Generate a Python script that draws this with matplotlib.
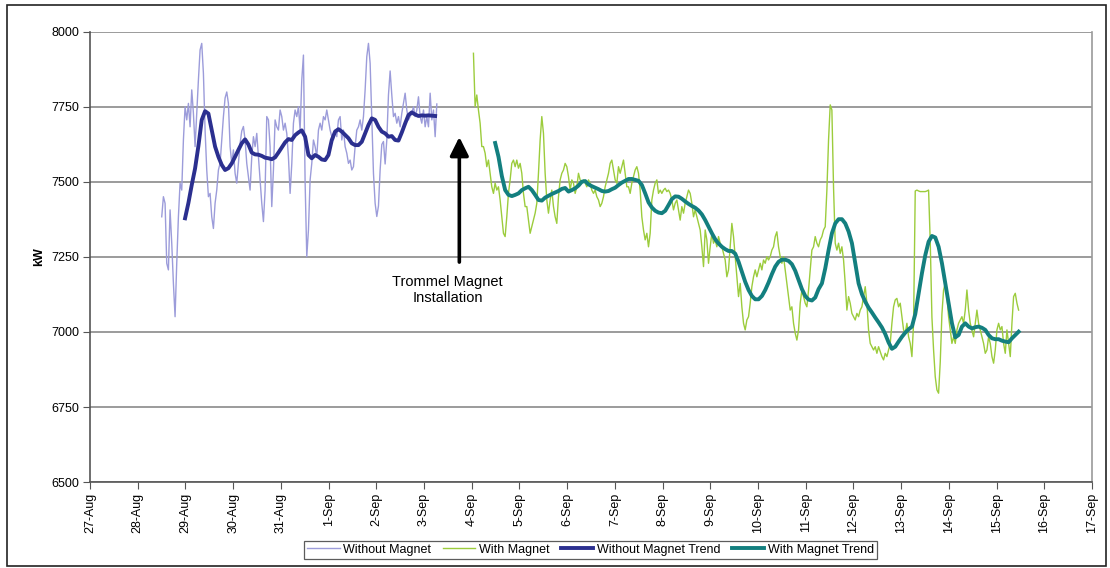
import numpy as np
import matplotlib
matplotlib.use("Agg")
import matplotlib.pyplot as plt
from matplotlib.patches import Rectangle

plt.rcParams["font.family"] = ["Liberation Sans", "DejaVu Sans"]

# Time axis: days counted from 27-Aug 00:00
day_labels = ["27-Aug", "28-Aug", "29-Aug", "30-Aug", "31-Aug", "1-Sep", "2-Sep",
              "3-Sep", "4-Sep", "5-Sep", "6-Sep", "7-Sep", "8-Sep", "9-Sep",
              "10-Sep", "11-Sep", "12-Sep", "13-Sep", "14-Sep", "15-Sep",
              "16-Sep", "17-Sep"]

# Logged power, sampled every ~50 minutes
sample_step_days = 0.03494

without_start_day = 1.503
without_magnet_kw = [
    7384, 7451, 7429, 7229, 7207, 7407, 7296, 7162, 7051, 7229, 7384, 7496, 7473,
    7640, 7751, 7707, 7762, 7684, 7807, 7729, 7618, 7729, 7840, 7940, 7962, 7862,
    7673, 7540, 7451, 7462, 7384, 7345, 7429, 7473, 7540, 7562, 7640, 7718, 7780,
    7800, 7762, 7618, 7562, 7607, 7529, 7496, 7562, 7629, 7670, 7685, 7640, 7562,
    7518, 7473, 7584, 7651, 7618, 7662, 7584, 7507, 7429, 7368, 7473, 7718, 7707,
    7618, 7418, 7540, 7707, 7684, 7673, 7740, 7718, 7673, 7696, 7662, 7584,
    7462, 7560, 7696, 7740, 7718, 7751, 7673, 7840, 7923, 7500, 7251, 7340, 7507,
    7562, 7640, 7618, 7584, 7673, 7696, 7673, 7718, 7707, 7740, 7707, 7673, 7651,
    7640, 7673, 7651, 7707, 7718, 7640, 7673, 7618, 7596, 7562, 7573, 7540, 7551,
    7618, 7673, 7684, 7707, 7673, 7718, 7807, 7918, 7962, 7896, 7718, 7529, 7429,
    7385, 7420, 7540, 7625, 7635, 7560, 7640, 7790, 7870, 7790, 7718, 7729, 7696,
    7718, 7684, 7729, 7762, 7796, 7740, 7707, 7718, 7729, 7751, 7718, 7740, 7784,
    7718, 7696, 7740, 7684, 7718, 7684, 7796, 7707, 7740, 7651, 7760,
]

with_start_day = 8.036
with_magnet_kw = [
    7929, 7751, 7790, 7740, 7696, 7618, 7618, 7596, 7551, 7573, 7529, 7484, 7462,
    7496, 7473, 7484, 7440, 7384, 7329, 7318, 7384, 7462, 7507, 7562, 7573, 7551,
    7573, 7546, 7562, 7529, 7462, 7418, 7418, 7373, 7329, 7351, 7373, 7396, 7429,
    7529, 7640, 7718, 7662, 7529, 7440, 7396, 7440, 7473, 7418, 7384, 7362, 7451,
    7507, 7529, 7540, 7562, 7551, 7518, 7473, 7507, 7496, 7462, 7484, 7529, 7507,
    7496, 7507, 7496, 7484, 7507, 7496, 7473, 7462, 7473, 7451, 7440, 7418, 7429,
    7451, 7484, 7507, 7529, 7562, 7573, 7540, 7507, 7496, 7551, 7529, 7551, 7573,
    7529, 7484, 7484, 7462, 7496, 7518, 7540, 7551, 7529, 7473, 7384, 7340, 7307,
    7329, 7284, 7329,
    7440, 7473, 7496, 7507, 7462, 7473, 7462, 7473, 7479, 7468, 7473, 7462, 7440,
    7407, 7429, 7440, 7407, 7373, 7418, 7396, 7429, 7451, 7473, 7462, 7429, 7384,
    7407, 7384, 7362, 7340, 7284, 7218, 7340, 7307, 7229, 7284, 7329, 7296, 7307,
    7284, 7318, 7296, 7284, 7262, 7240, 7184, 7207, 7284, 7362, 7318, 7251, 7184,
    7118, 7162, 7084, 7029, 7007, 7040, 7051, 7096, 7151, 7184, 7207, 7184, 7207,
    7229, 7207, 7240, 7229, 7251, 7240, 7251, 7273, 7284, 7318, 7334, 7284, 7251,
    7229, 7251, 7207, 7162, 7118, 7073, 7084, 7029, 6996, 6973, 7007, 7096, 7140,
    7118, 7096, 7084, 7140, 7207, 7273, 7284, 7318, 7296, 7284, 7307,
    7318, 7340, 7351, 7473, 7640, 7757, 7740, 7480, 7296, 7273, 7296, 7262, 7284,
    7240, 7162, 7073, 7118, 7096, 7062, 7051, 7040, 7062, 7051, 7073, 7084, 7118,
    7151, 7096, 7007, 6962, 6951, 6940, 6951, 6929, 6951, 6934, 6918, 6907, 6929,
    6918, 6940, 6962, 7029, 7084, 7107, 7112, 7084, 7096, 7051, 7007, 6996, 7029,
    6984, 6962, 6918, 7029, 7470, 7473, 7470, 7468, 7468, 7468, 7468, 7470, 7473,
    7300, 7050, 6940, 6851, 6807, 6796, 6900, 7060, 7140, 7162, 7118, 7051, 7007,
    6962, 6984, 6962, 7007, 7029, 7040, 7051, 7029, 7073, 7140, 7073, 7029, 7007,
    6984, 7029, 7073, 7029, 7007, 6984, 6962, 6929, 6940, 6984, 6962, 6918, 6896,
    6940, 7007, 7029, 7007, 7018, 6962, 6929, 7007, 6962, 6918, 7029, 7118, 7129,
    7096, 7073,
]

# Moving-average trends, sampled every ~100 minutes
trend_step_days = 0.06988

without_trend_start_day = 1.992
without_trend_kw = [
    7379, 7430, 7490, 7545, 7620, 7707, 7736, 7728, 7673, 7618, 7584, 7557, 7540,
    7546, 7562, 7584, 7607, 7629, 7642, 7625, 7598, 7592, 7591, 7587, 7581, 7579,
    7576, 7582, 7598, 7615, 7632, 7643, 7640, 7656, 7665, 7672, 7651, 7590, 7579,
    7590, 7584, 7575, 7573, 7590, 7640, 7668, 7676, 7668, 7657, 7646, 7629, 7623,
    7623, 7634, 7662, 7690, 7712, 7707, 7684, 7668, 7662, 7651, 7653, 7640, 7638,
    7665, 7695, 7723, 7732, 7725, 7720, 7722, 7721, 7722, 7721, 7720,
]

with_trend_start_day = 8.491
with_trend_kw = [
    7630, 7584, 7520, 7473, 7457, 7453, 7457, 7462, 7473, 7479, 7484, 7473, 7457,
    7440, 7438, 7448, 7454, 7460, 7465, 7470, 7477, 7480, 7468, 7473, 7479, 7488,
    7501, 7503, 7492, 7486, 7481, 7476, 7470, 7468, 7470, 7476, 7481, 7490, 7498,
    7504, 7510, 7510, 7507, 7504, 7490, 7462, 7432,
    7415, 7404, 7398, 7396, 7404, 7423, 7443, 7452, 7451, 7444, 7435, 7427, 7420,
    7414, 7405, 7392, 7373, 7351, 7329, 7309, 7295, 7284, 7276, 7270, 7270, 7261,
    7234, 7201, 7167, 7140, 7120, 7109, 7109, 7120, 7140, 7165, 7193, 7218, 7234,
    7241, 7241, 7237, 7226, 7204, 7173, 7143, 7120, 7108, 7105, 7115, 7143,
    7162, 7212, 7273, 7329, 7362, 7376, 7376, 7362, 7335, 7296, 7230, 7162, 7126,
    7101, 7081, 7065, 7048, 7032, 7015, 6993, 6965, 6944, 6951, 6968, 6984, 6998,
    7009, 7018, 7060, 7129, 7196, 7256, 7301, 7320, 7315, 7284, 7229, 7162, 7095,
    7029, 6982, 6990, 7018, 7029, 7018, 7012, 7016, 7018, 7014, 7007, 6990, 6979,
    6976, 6976, 6971, 6968, 6966, 6979, 6990, 7001,
]

# Installation event marker
install_day = 7.74
arrow_tail_kw = 7233
arrow_head_kw = 7650
install_label = "Trommel Magnet\nInstallation"


def time_axis(start, step, values):
    return start + step * np.arange(len(values))


fig = plt.figure(figsize=(11.10, 5.68), dpi=100)
ax = fig.add_axes([0.0811, 0.1514, 0.9027, 0.7923])

c_without = "#9c9cda"
c_with = "#9ccc3c"
c_without_tr = "#2b2f8f"
c_with_tr = "#137f7f"

ax.plot(time_axis(without_start_day, sample_step_days, without_magnet_kw),
        without_magnet_kw, color=c_without, lw=1.0, label="Without Magnet", zorder=3)
ax.plot(time_axis(with_start_day, sample_step_days, with_magnet_kw),
        with_magnet_kw, color=c_with, lw=1.0, label="With Magnet", zorder=3)
ax.plot(time_axis(without_trend_start_day, trend_step_days, without_trend_kw),
        without_trend_kw, color=c_without_tr, lw=2.8, label="Without Magnet Trend",
        zorder=4, solid_joinstyle="round")
ax.plot(time_axis(with_trend_start_day, trend_step_days, with_trend_kw),
        with_trend_kw, color=c_with_tr, lw=2.8, label="With Magnet Trend",
        zorder=4, solid_joinstyle="round")

# Axes, grid and ticks
ax.set_xlim(0, len(day_labels) - 1)
ax.set_ylim(6500, 8000)
ax.set_yticks(np.arange(6500, 8001, 250))
ax.set_xticks(np.arange(len(day_labels)))
ax.set_xticklabels(day_labels, rotation=90, fontsize=9)
ax.tick_params(axis="y", labelsize=9, direction="out", length=5, color="#555555",
               pad=3)
ax.tick_params(axis="x", direction="out", length=5, color="#555555", pad=3)
ax.grid(axis="y", color="#8a8a8a", lw=1.2, zorder=1)
ax.set_axisbelow(True)
for side in ("left", "bottom"):
    ax.spines[side].set_color("#555555")
    ax.spines[side].set_linewidth(1.2)
ax.spines["right"].set_color("#9a9a9a")
ax.spines["right"].set_linewidth(1.2)
ax.spines["top"].set_visible(False)
ax.set_ylabel("kW", fontsize=9, fontweight="bold", labelpad=4)

# Installation arrow and caption
ax.annotate("", xy=(install_day, arrow_head_kw), xytext=(install_day, arrow_tail_kw),
            arrowprops=dict(arrowstyle="-|>", lw=2.6, color="black",
                            mutation_scale=28, shrinkA=0, shrinkB=0), zorder=5)
ax.text(install_day - 0.25, 7140, install_label, ha="center", va="center",
        fontsize=10.5, linespacing=1.2, zorder=5)

# Legend
leg = fig.legend(loc="center", bbox_to_anchor=(0.532, 0.032), ncol=4, fontsize=9,
                 frameon=True, fancybox=False, edgecolor="#333333",
                 handlelength=2.6, handletextpad=0.3, columnspacing=0.9,
                 borderpad=0.25, borderaxespad=0)
leg.get_frame().set_linewidth(0.9)

# Outer figure border
fig.patches.append(Rectangle((7 / 1110, 2 / 568), 1099 / 1110, 561 / 568,
                             transform=fig.transFigure, fill=False,
                             edgecolor="#222222", lw=1.2))

fig.savefig("out.png", dpi=100)
